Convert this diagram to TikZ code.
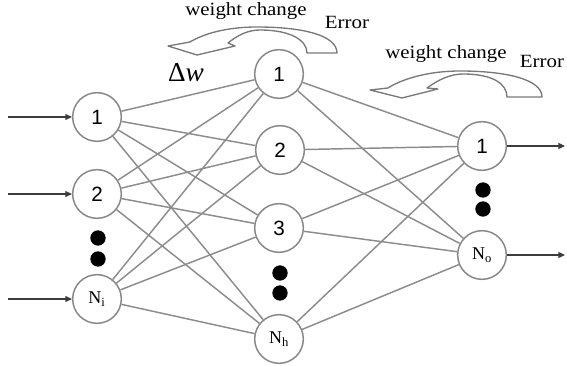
\documentclass[tikz,border=0pt]{standalone}
\usepackage{fontspec}
\setmainfont{Liberation Serif}
\newfontfamily\numfont{Liberation Sans}
\usetikzlibrary{arrows.meta}
\definecolor{edgegray}{RGB}{140,140,140}
\definecolor{ringgray}{RGB}{135,135,135}
\definecolor{arrowdark}{RGB}{60,60,60}
\definecolor{bandgray}{RGB}{120,120,120}
\tikzset{
  neuron/.style={circle, draw=ringgray, line width=1.1pt, fill=white, minimum size=36.5pt, inner sep=0pt},
  numlabel/.style={font=\numfont\fontsize{15.5}{18}\selectfont},
  nlabel/.style={font=\fontsize{13.5}{15}\selectfont},
  link/.style={draw=edgegray, line width=1.1pt},
  ioarrow/.style={draw=arrowdark, line width=0.9pt, -{Triangle[length=5pt,width=4.5pt]}},
  bigdot/.style={circle, fill=black, minimum size=11.5pt, inner sep=0pt},
  band/.style={draw=bandgray, line width=1pt, fill=white, line join=round},
  caption/.style={font=\fontsize{14}{16}\selectfont, inner sep=0pt, anchor=base}
}
\begin{document}
\begin{tikzpicture}[x=0.75pt, y=-0.75pt]
\useasboundingbox (0,0) rectangle (567,366);

% input layer
\node[neuron, numlabel] (in1) at (97,117) {1};
\node[neuron, numlabel] (in2) at (97,194) {2};
\node[neuron, nlabel] (inN) at (97,299) {N\textsubscript{i}};
\node[bigdot] (id1) at (98,238) {};
\node[bigdot] (id2) at (98,259) {};

% hidden layer
\node[neuron, numlabel] (h1) at (279,74) {1};
\node[neuron, numlabel] (h2) at (280,150) {2};
\node[neuron, numlabel] (h3) at (279,228) {3};
\node[neuron, nlabel] (hN) at (279,339) {N\textsubscript{h}};
\node[bigdot] (hd1) at (280,273) {};
\node[bigdot] (hd2) at (280,293) {};

% output layer
\node[neuron, numlabel] (o1) at (482,146) {1};
\node[neuron, nlabel] (oN) at (482,255) {N\textsubscript{o}};
\node[bigdot] (od1) at (483,190) {};
\node[bigdot] (od2) at (483,209) {};

% connections
\foreach \a in {in1,in2,inN}{
  \foreach \b in {h1,h2,h3,hN}{
    \draw[link] (\a) -- (\b);
  }
}
\foreach \a in {h1,h2,h3,hN}{
  \foreach \b in {o1,oN}{
    \draw[link] (\a) -- (\b);
  }
}

% input and output arrows
\coordinate (s1) at (8,117);
\coordinate (s2) at (8,194);
\coordinate (s3) at (8,299);
\coordinate (e1) at (565,146);
\coordinate (e2) at (565,255);
\draw[ioarrow] (s1) -- (in1);
\draw[ioarrow] (s2) -- (in2);
\draw[ioarrow] (s3) -- (inN);
\draw[ioarrow] (o1) -- (e1);
\draw[ioarrow] (oN) -- (e2);

% curved "weight change" arrows
\draw[band] (337,53) .. controls (337,35) and (302,27) .. (257,27)
  .. controls (226,27) and (203,34) .. (190,42) -- (168,46) -- (197,55) -- (235,46) -- (228,43)
  .. controls (238,35) and (248,30) .. (260,30)
  .. controls (290,30) and (307,40) .. (307,53) -- cycle;
\draw[band] (542,97) .. controls (542,79) and (505,71) .. (460,71)
  .. controls (428,71) and (402,79) .. (388,88) -- (370,90) -- (402,98) -- (438,89) -- (427,88)
  .. controls (438,80) and (450,74) .. (463,74)
  .. controls (493,74) and (507,84) .. (507,97) -- cycle;

% texts
\node[caption] (wc1) at (246,16) {\scalebox{1.12}[1]{weight change}};
\node[caption] (er1) at (347,29) {\scalebox{1.12}[1]{Error}};
\node[caption] (wc2) at (446,59) {\scalebox{1.12}[1]{weight change}};
\node[caption] (er2) at (542,68) {\scalebox{1.12}[1]{Error}};
\node[inner sep=0pt, anchor=base, font=\fontsize{20.5}{24}\selectfont] (dw) at (186,82) {Δ\textit{w}};
\end{tikzpicture}
\end{document}
